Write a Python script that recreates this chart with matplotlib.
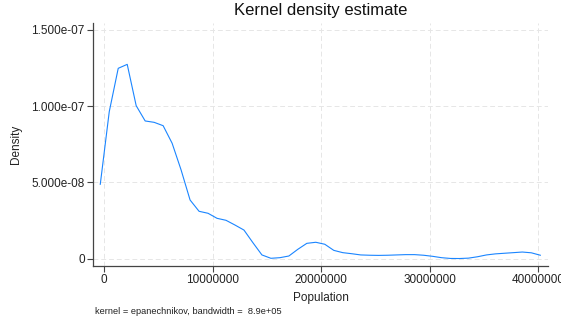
import matplotlib
matplotlib.use("Agg")
import matplotlib.pyplot as plt

plt.rcParams['font.family'] = ['Liberation Sans', 'DejaVu Sans']

# Evaluation grid (population) and estimated density
population = [
    -370000, 458000, 1285000, 2113000, 2940000, 3768000, 4596000, 5423000, 6251000, 7078000,
    7906000, 8734000, 9561000, 10389000, 11216000, 12044000, 12872000, 13699000, 14527000, 15354000,
    16182000, 17010000, 17837000, 18665000, 19492000, 20320000, 21148000, 21975000, 22803000, 23630000,
    24458000, 25286000, 26113000, 26941000, 27768000, 28596000, 29424000, 30251000, 31079000, 31906000,
    32734000, 33562000, 34389000, 35217000, 36044000, 36872000, 37700000, 38527000, 39355000, 40182000,
]
density = [
    4.87e-8, 9.63e-8, 1.247e-7, 1.273e-7, 1.002e-7, 9.02e-8, 8.93e-8, 8.71e-8, 7.56e-8, 5.81e-8,
    3.84e-8, 3.10e-8, 2.97e-8, 2.64e-8, 2.51e-8, 2.20e-8, 1.87e-8, 1.04e-8, 2.4e-9, 2e-10,
    6e-10, 1.7e-9, 6.1e-9, 1.0e-8, 1.07e-8, 9.4e-9, 5.4e-9, 3.9e-9, 3.2e-9, 2.4e-9,
    2.2e-9, 2.1e-9, 2.2e-9, 2.4e-9, 2.6e-9, 2.6e-9, 2.2e-9, 1.5e-9, 6e-10, 1e-10,
    5e-11, 3e-10, 1.2e-9, 2.4e-9, 3.1e-9, 3.5e-9, 3.9e-9, 4.3e-9, 3.8e-9, 2.2e-9,
]

xticks = [0, 10000000, 20000000, 30000000, 40000000]
xtick_labels = ["0", "10000000", "20000000", "30000000", "40000000"]
yticks = [0, 5e-8, 1e-7, 1.5e-7]
ytick_labels = ["0", "5.000e-08", "1.000e-07", "1.500e-07"]

W, H = 561, 321
fig = plt.figure(figsize=(W / 100, H / 100), dpi=100)
left, right, top, bottom = 93, 548, 23, 266
ax = fig.add_axes([left / W, 1 - bottom / H, (right - left) / W, (bottom - top) / H])

ax.plot(population, density, color="#1a85ff", linewidth=0.8)

ax.set_xlim(-1040000, 40890000)
ax.set_ylim(-4.85e-9, 1.544e-7)
ax.set_xticks(xticks)
ax.set_xticklabels(xtick_labels)
ax.set_yticks(yticks)
ax.set_yticklabels(ytick_labels)

for s in ["top", "right"]:
    ax.spines[s].set_visible(False)
for s in ["left", "bottom"]:
    ax.spines[s].set_color("#444444")
    ax.spines[s].set_linewidth(0.9)

ax.tick_params(axis="both", direction="out", length=4, width=0.8, color="#444444",
               labelsize=8.5, labelcolor="#222222", pad=2)
ax.grid(True, color="#e6e6e6", linestyle=(0, (5, 3)), linewidth=0.7)
ax.set_axisbelow(True)

ax.set_xlabel("Population", fontsize=8.5, color="#222222", labelpad=4)
ax.set_ylabel("Density", fontsize=8.5, color="#222222", labelpad=7)

fig.text((left + right) / 2 / W, 1 - 11 / H, "Kernel density estimate", ha="center", va="center",
         fontsize=12, color="#111111")
fig.text(95 / W, 1 - 311 / H, "kernel = epanechnikov, bandwidth =  8.9e+05", ha="left",
         va="center", fontsize=6.7, color="#222222")

fig.savefig("out.png", dpi=100, facecolor="white")
